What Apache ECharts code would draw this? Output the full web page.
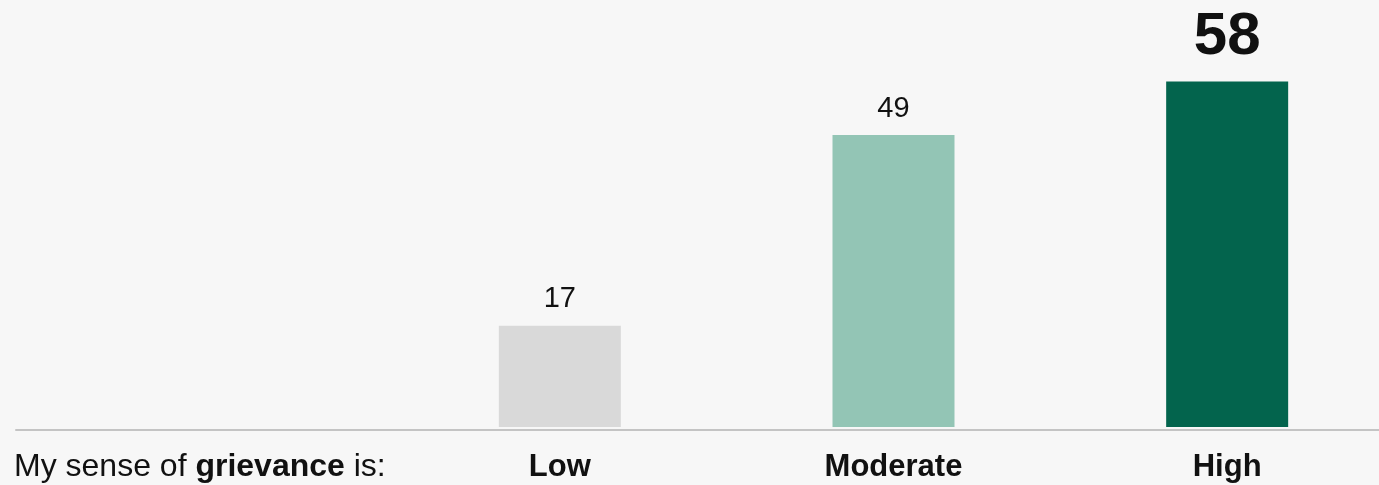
<!DOCTYPE html>
<html>
<head>
<meta charset="utf-8">
<script src="https://cdn.jsdelivr.net/npm/echarts@6/dist/echarts.min.js"></script>
<style>
  html, body { margin: 0; padding: 0; background: #f7f7f7; }
  #chart { width: 1379px; height: 485px; }
</style>
</head>
<body>
<div id="chart"></div>
<script>
// chart data
const categories = ["Low", "Moderate", "High"];
const values = [17, 49, 58];
const barColors = ["#d9d9d9", "#93c5b5", "#03644d"];
const axisTitle = ["My sense of ", "grievance", " is:"];

const font = '"Liberation Sans", Arial, sans-serif';

const chart = echarts.init(document.getElementById("chart"));

const option = {
  backgroundColor: "#f7f7f7",
  animation: false,
  textStyle: { fontFamily: font },
  title: {
    left: 9,
    top: 446,
    text: "{r|" + axisTitle[0] + "}{b|" + axisTitle[1] + "}{r|" + axisTitle[2] + "}",
    textStyle: {
      rich: {
        r: { fontFamily: font, fontSize: 32, color: "#111", fontWeight: "normal" },
        b: { fontFamily: font, fontSize: 32, color: "#111", fontWeight: "bold" }
      }
    }
  },
  grid: [
    // bars (extends a little past the right edge so the bands line up)
    { left: 393, width: 1001, top: 10, bottom: 58, outerBoundsMode: "none", containLabel: false },
    // full-width baseline
    { left: 16, right: 0, top: 10, bottom: 55, outerBoundsMode: "none" }
  ],
  xAxis: [
    {
      type: "category",
      gridIndex: 0,
      data: categories,
      axisLine: { show: false },
      axisTick: { show: false },
      axisLabel: {
        margin: 25,
        fontSize: 31,
        fontWeight: "bold",
        color: "#111",
        fontFamily: font
      }
    },
    {
      type: "value",
      gridIndex: 1,
      min: 0,
      max: 1,
      axisLine: { show: true, lineStyle: { color: "#c4c4c4", width: 2 } },
      axisTick: { show: false },
      axisLabel: { show: false },
      splitLine: { show: false }
    }
  ],
  yAxis: [
    {
      type: "value",
      gridIndex: 0,
      min: 0,
      max: 70,
      show: false,
      splitLine: { show: false }
    },
    {
      type: "value",
      gridIndex: 1,
      show: false,
      splitLine: { show: false }
    }
  ],
  series: [
    {
      type: "bar",
      xAxisIndex: 0,
      yAxisIndex: 0,
      barWidth: 122,
      data: values.map((v, i) => ({
        value: v,
        itemStyle: { color: barColors[i] },
        label: i === values.length - 1
          ? { fontSize: 60, fontWeight: "bold", distance: 14 }
          : { fontSize: 29, fontWeight: "normal", distance: 12 }
      })),
      label: {
        show: true,
        position: "top",
        color: "#111",
        fontFamily: font
      }
    }
  ]
};

chart.setOption(option);
</script>
</body>
</html>
